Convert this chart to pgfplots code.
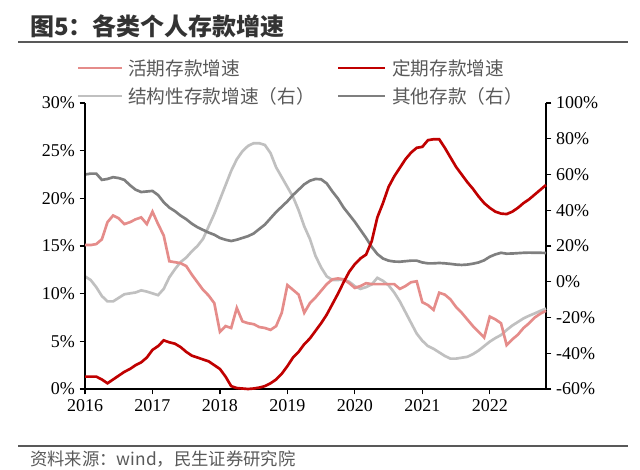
\documentclass[border=0pt]{standalone}
\usepackage{pgfplots}
\pgfplotsset{compat=1.18}
\usepackage{pgfplotstable}
\usepackage{fontspec}
\setmainfont{Liberation Serif}
\newfontfamily\cjk{Noto Sans CJK SC}

\definecolor{huoqi}{HTML}{E58C8A}
\definecolor{dingqi}{HTML}{C00000}
\definecolor{jiegou}{HTML}{C0C0C0}
\definecolor{qita}{HTML}{7F7F7F}
\definecolor{txtgray}{HTML}{595959}

% month index (0 = 2016-01), left axis: hq, dq ; right axis: jg, qt
\pgfplotstableread{
m  hq    dq    jg     qt
0  15.1  1.3   3      60
1  15.1  1.3   1      60.5
2  15.2  1.3   -3     60.5
3  15.7  1.0   -8     57
4  17.5  0.6   -11    57.5
5  18.2  1.0   -11    58.5
6  17.9  1.4   -9     58
7  17.3  1.8   -7     57
8  17.5  2.1   -6.5   54
9  17.8  2.5   -6     51.5
10 18.0  2.8   -4.8   50.2
11 17.3  3.3   -5.5   50.5
12 18.6  4.1   -6.5   50.8
13 17.3  4.5   -7.5   48.5
14 16.1  5.1   -4     44.5
15 13.4  4.9   2.5    41.5
16 13.3  4.75  7      39.5
17 13.2  4.4   11     37
18 12.9  3.9   13.5   35
19 12.0  3.5   17     32.5
20 11.2  3.3   20     30.5
21 10.4  3.1   24     29
22 9.8   2.9   31     27.5
23 9.0   2.5   38     26.3
24 6.0   2.1   46     24.5
25 6.6   1.3   54     23.5
26 6.4   0.3   62     22.8
27 8.5   0.1   68.5   23.5
28 7.1   0.05  73     24.5
29 6.9   0.0   76     25.5
30 6.8   0.05  77.5   27
31 6.5   0.15  77.5   29.5
32 6.4   0.3   76.5   32
33 6.2   0.6   72     35.5
34 6.6   1.0   64     39
35 8.0   1.6   58.5   42
36 10.9  2.4   53     45
37 10.4  3.3   47.5   48.5
38 9.9   3.9   40     51.5
39 8.0   4.7   31     54.5
40 9.0   5.3   24     56.5
41 9.6   6.1   14.5   57.5
42 10.3  6.9   8      57.3
43 11.0  7.8   3      55
44 11.5  8.9   1      50.5
45 11.6  10.0  1      46.5
46 11.5  11.2  1.2    41.5
47 11.1  12.3  0      37.5
48 10.6  13.1  -2.5   33.5
49 10.8  13.7  -4     29
50 11.1  14.1  -3     24.5
51 11.0  15.5  -1.5   19.5
52 11.0  18.0  2.2    15.5
53 11.0  19.5  0.5    13
54 11.0  21.2  -2     11.8
55 11.0  22.3  -6     11.3
56 10.5  23.2  -11    11.2
57 10.8  24.1  -17    11.5
58 11.2  24.8  -23    11.8
59 11.3  25.3  -29    11.8
60 9.1   25.4  -33    10.8
61 8.8   26.1  -36    10.3
62 8.3   26.2  -37.5  10.3
63 10.1  26.2  -39.5  10.5
64 9.9   25.3  -41.5  10.3
65 9.4   24.3  -43    10
66 8.6   23.3  -43    9.6
67 8.0   22.5  -42.5  9.4
68 7.3   21.7  -42    9.6
69 6.6   21.0  -40.5  10.1
70 6.0   20.2  -38.5  10.8
71 5.4   19.5  -36    12
72 7.6   19.0  -33.5  14
73 7.3   18.6  -31.5  15.3
74 6.9   18.4  -29.8  16.2
75 4.6   18.35 -27    15.7
76 5.2   18.6  -24.5  15.8
77 5.7   19.0  -22.5  16
78 6.4   19.5  -20.5  16.2
79 6.9   19.9  -19    16.3
80 7.5   20.4  -17.7  16.2
81 7.9   20.9  -16.3  16.2
82 8.2   21.4  -15    16.1
}\data

\pgfplotsset{
  common/.style={
    at={(63.75pt,60pt)}, anchor=south west,
    width=345.75pt, height=214.5pt, scale only axis,
    xmin=0, xmax=82, clip=false,
    tick align=outside, major tick length=4pt,
    every tick/.style={black, line width=0.9pt},
    axis line style={black, line width=0.9pt, -},
    tick label style={font=\fontsize{13.5}{15}\selectfont, black},
  },
}

\begin{document}
\begin{tikzpicture}
\path[use as bounding box] (0,0) rectangle (480pt,351.75pt);

% title and rules
\node[anchor=west, text=black!80, inner sep=0pt] at (22.5pt,332.25pt)
  {\cjk\bfseries\fontsize{18}{20}\selectfont 图5：各类个人存款增速};
\draw[txtgray, line width=1.5pt] (13.5pt,320.25pt) -- (471pt,320.25pt);
\draw[txtgray, line width=1.5pt] (13.5pt,17.25pt) -- (471pt,17.25pt);
\node[anchor=west, text=txtgray, inner sep=0pt] at (22.5pt,7.5pt)
  {\cjk\fontsize{13}{15}\selectfont 资料来源：wind，民生证券研究院};

% legend
\draw[huoqi, line width=2pt] (58.5pt,300.75pt) -- (91.5pt,300.75pt);
\node[anchor=west, text=txtgray, inner sep=0pt] at (96pt,300.75pt)
  {\cjk\fontsize{14}{16}\selectfont 活期存款增速};
\draw[dingqi, line width=2pt] (253.5pt,300.75pt) -- (288.75pt,300.75pt);
\node[anchor=west, text=txtgray, inner sep=0pt] at (294pt,300.75pt)
  {\cjk\fontsize{14}{16}\selectfont 定期存款增速};
\draw[jiegou, line width=2pt] (58.5pt,279.75pt) -- (91.5pt,279.75pt);
\node[anchor=west, text=txtgray, inner sep=0pt] at (96pt,279.75pt)
  {\cjk\fontsize{14}{16}\selectfont 结构性存款增速（右）};
\draw[qita, line width=2pt] (253.5pt,279.75pt) -- (288.75pt,279.75pt);
\node[anchor=west, text=txtgray, inner sep=0pt] at (294pt,279.75pt)
  {\cjk\fontsize{14}{16}\selectfont 其他存款（右）};

% right axis
\begin{axis}[common,
    hide x axis, axis y line*=right,
    ymin=-60, ymax=100,
    ytick={-60,-40,...,100},
    yticklabels={-60\%,-40\%,-20\%,0\%,20\%,40\%,60\%,80\%,100\%},
  ]
  \addplot[jiegou, line width=2pt] table[x=m, y=jg]{\data};
  \addplot[qita, line width=2pt] table[x=m, y=qt]{\data};
\end{axis}

% left axis
\begin{axis}[common,
    axis x line*=bottom, axis y line*=left,
    ymin=0, ymax=30,
    xtick={0,12,24,36,48,60,72},
    xticklabels={2016,2017,2018,2019,2020,2021,2022},
    ytick={0,5,...,30},
    yticklabels={0\%,5\%,10\%,15\%,20\%,25\%,30\%},
  ]
  \addplot[huoqi, line width=2pt] table[x=m, y=hq]{\data};
  \addplot[dingqi, line width=2pt] table[x=m, y=dq]{\data};
\end{axis}
\end{tikzpicture}
\end{document}
